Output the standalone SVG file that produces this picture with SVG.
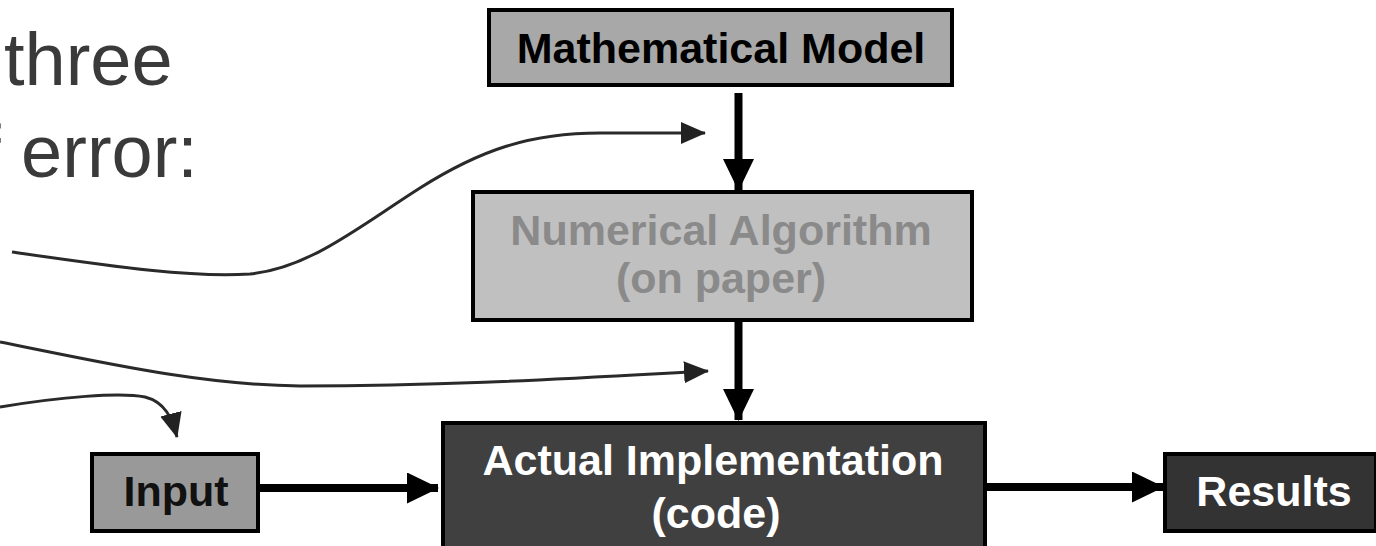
<svg xmlns="http://www.w3.org/2000/svg" width="1376" height="546" viewBox="0 0 1376 546">
<style>
.box{stroke:#000;stroke-width:4}
.lbl{font-family:"Liberation Sans",Arial,sans-serif;font-weight:bold;font-size:43px;text-anchor:middle}
.big{font-family:"Liberation Sans",Arial,sans-serif;font-size:74px;fill:#3a3a3a}
.thick{stroke:#000;stroke-width:8;fill:none}
.thin{stroke:#2a2a2a;stroke-width:3;fill:none}
</style>
<defs>
<marker id="ah" markerUnits="userSpaceOnUse" viewBox="0 0 32 31" markerWidth="32" markerHeight="31" refX="31" refY="15.5" orient="auto">
<path d="M0,0 L32,15.5 L0,31 Z" fill="#000"/>
</marker>
<marker id="as" markerUnits="userSpaceOnUse" viewBox="0 0 25 22" markerWidth="25" markerHeight="22" refX="24" refY="11" orient="auto">
<path d="M0,0 L25,11 L0,22 Z" fill="#222"/>
</marker>
</defs>
<rect width="1376" height="546" fill="#fff"/>
<g id="text-left">
<text class="big" x="4" y="85">three</text>
<text class="big" x="-20" y="177">f error:</text>
</g>
<g id="math-model">
<rect class="box" x="489" y="10" width="463" height="75" fill="#a8a8a8"/>
<text class="lbl" x="721" y="63" fill="#000">Mathematical Model</text>
</g>
<g id="numerical-algorithm">
<rect class="box" x="473" y="192" width="499" height="128" fill="#c0c0c0"/>
<text class="lbl" x="721" y="245" fill="#8a8a8a">Numerical Algorithm</text>
<text class="lbl" x="721" y="293" fill="#8a8a8a">(on paper)</text>
</g>
<g id="input">
<rect class="box" x="92" y="454" width="166" height="77" fill="#999"/>
<text class="lbl" x="176" y="506" fill="#111">Input</text>
</g>
<g id="actual-implementation">
<rect class="box" x="443" y="423" width="542" height="130" fill="#404040"/>
<text class="lbl" x="713" y="475" fill="#fff">Actual Implementation</text>
<text class="lbl" x="716" y="528" fill="#fff">(code)</text>
</g>
<g id="results">
<rect class="box" x="1165" y="454" width="211" height="77" fill="#333"/>
<text class="lbl" x="1274" y="506" fill="#fff">Results</text>
</g>
<g id="connectors">
<line class="thick" x1="738.5" y1="93" x2="738.5" y2="190" marker-end="url(#ah)"/>
<line class="thick" x1="738.5" y1="320" x2="738.5" y2="420" marker-end="url(#ah)"/>
<line class="thick" x1="258" y1="488" x2="438" y2="488" marker-end="url(#ah)"/>
<line class="thick" x1="985" y1="487" x2="1163" y2="487" marker-end="url(#ah)"/>
<path class="thin" d="M12,252 C110,266 190,278 250,274 C310,268 360,226 420,188 C480,150 530,133 600,133 L705,133" marker-end="url(#as)"/>
<path class="thin" d="M0,342 C100,362 200,385 300,386 C450,386 560,379 708,371" marker-end="url(#as)"/>
<path class="thin" d="M0,407 C60,397 120,392 145,397 C165,402 172,418 177,437" marker-end="url(#as)"/>
</g>
</svg>
